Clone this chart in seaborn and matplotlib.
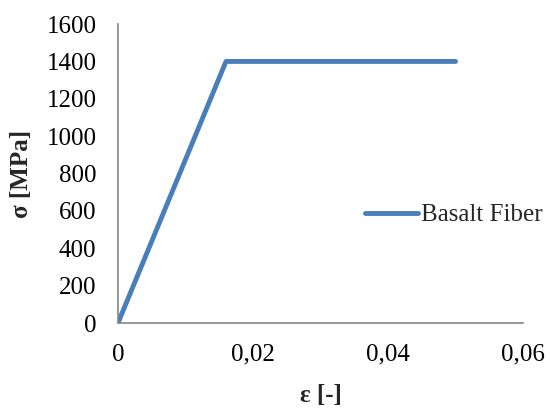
import matplotlib
matplotlib.use("Agg")
import matplotlib.pyplot as plt
import pandas as pd
import seaborn as sns
from matplotlib.ticker import FuncFormatter

# stress-strain curve of basalt fiber
strain = [0.0, 0.016, 0.05]
stress = [0, 1400, 1400]
series = "Basalt Fiber"

x_ticks = [0, 0.02, 0.04, 0.06]
y_ticks = [0, 200, 400, 600, 800, 1000, 1200, 1400, 1600]

sns.set_theme(style="white")
plt.rcParams["font.family"] = ["Liberation Serif", "DejaVu Serif"]

df = pd.DataFrame({"strain": strain, "stress": stress, "series": series})

fig = plt.figure(figsize=(5.5, 4.08), dpi=100)
ax = fig.add_axes([0.2145, 0.2083, 0.7365, 0.7327])

sns.lineplot(data=df, x="strain", y="stress", hue="series",
             palette=["#4a7ebb"], linewidth=3.5, ax=ax, sort=False)

ax.set_xlim(0, 0.06)
ax.set_ylim(0, 1600)
ax.set_xticks(x_ticks)
ax.set_yticks(y_ticks)
ax.xaxis.set_major_formatter(FuncFormatter(
    lambda v, p: "0" if v == 0 else f"{v:.2f}".replace(".", ",")))

for side in ["top", "right"]:
    ax.spines[side].set_visible(False)
for side in ["left", "bottom"]:
    ax.spines[side].set_color("#868686")
    ax.spines[side].set_linewidth(1.2)
ax.tick_params(axis="both", direction="out", length=5, width=1.2,
               color="#868686", labelsize=18, labelcolor="black")
ax.tick_params(axis="y", pad=10.5)
ax.tick_params(axis="x", pad=10)

ax.set_xlabel("ε [-]", fontsize=18, fontweight="bold", labelpad=13)
ax.set_ylabel("σ [MPa]", fontsize=18, fontweight="bold", labelpad=10)

leg = ax.legend(loc="center left", bbox_to_anchor=(0.61, 0.361), frameon=False,
                fontsize=18, handlelength=2.1, handletextpad=0.15,
                borderpad=0, borderaxespad=0)
for h in leg.get_lines():
    h.set_solid_capstyle("round")

fig.savefig("out.png", dpi=100)
